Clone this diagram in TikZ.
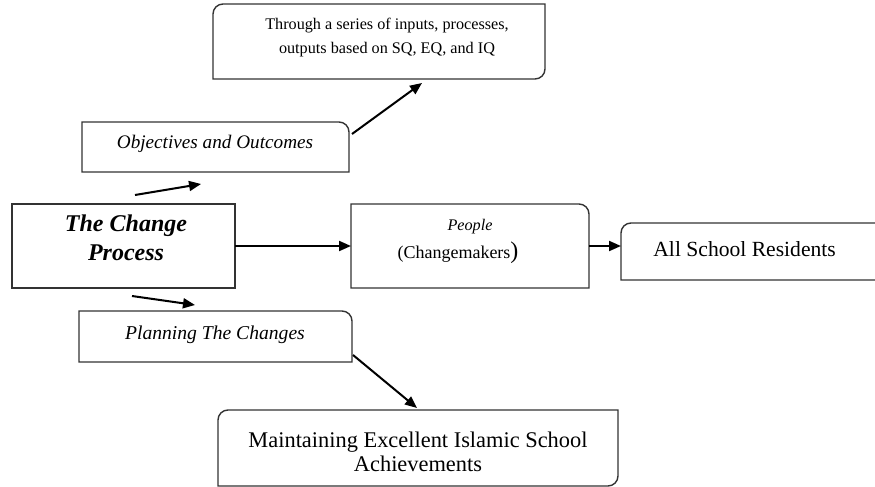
\documentclass[tikz,border=0pt]{standalone}
\usepackage{fontspec}
\setmainfont{Liberation Serif}
\usetikzlibrary{arrows.meta,positioning}
\tikzset{
  boxline/.style={draw=black!80, line width=0.7pt},
  frame/.style={inner sep=0pt, outer sep=0pt},
  arr/.style={-{Triangle[length=6pt,width=5pt]}, line width=1pt},
  lbl/.style={align=center, inner sep=0pt}
}
\begin{document}
\begin{tikzpicture}[x=0.5pt,y=-0.5pt]
\useasboundingbox (0,0) rectangle (875,487);
% box frames
\node[frame, minimum width=166pt, minimum height=37.5pt] (series) at (379,41.5) {};
\node[frame, minimum width=133.5pt, minimum height=25pt] (goals) at (215.5,147) {};
\node[frame, minimum width=111.5pt, minimum height=42pt] (change) at (123.5,246) {};
\node[frame, minimum width=119pt, minimum height=42pt] (people) at (470,246) {};
\node[frame, minimum width=132pt, minimum height=28.5pt] (residents) at (753,251.5) {};
\node[frame, minimum width=136.5pt, minimum height=25.5pt] (planning) at (215.5,336.5) {};
\node[frame, minimum width=200pt, minimum height=38pt] (achieve) at (418,448) {};
% outlines, one or two rounded corners each
\draw[boxline] (series.south west) [rounded corners=5pt] -- (series.north west) [sharp corners] -- (series.north east) [rounded corners=5pt] -- (series.south east) [sharp corners] -- cycle;
\draw[boxline] (goals.north west) [rounded corners=5pt] -- (goals.north east) [sharp corners] -- (goals.south east) -- (goals.south west) -- cycle;
\draw[boxline] (change.south west) rectangle (change.north east);
\draw[boxline] (people.north west) [rounded corners=5pt] -- (people.north east) [sharp corners] -- (people.south east) -- (people.south west) -- cycle;
\draw[boxline] (residents.south west) [rounded corners=5pt] -- (residents.north west) [sharp corners] -- (residents.north east) -- (residents.south east) -- cycle;
\draw[boxline] (planning.north west) [rounded corners=5pt] -- (planning.north east) [sharp corners] -- (planning.south east) -- (planning.south west) -- cycle;
\draw[boxline] (achieve.south west) [rounded corners=5pt] -- (achieve.north west) [sharp corners] -- (achieve.north east) [rounded corners=5pt] -- (achieve.south east) [sharp corners] -- cycle;
% texts
\node[lbl, font=\fontsize{8.1}{12}\selectfont] (series-txt) at (387,38) {Through a series of inputs, processes,\\outputs based on SQ, EQ, and IQ};
\node[lbl, font=\fontsize{9.6}{11}\selectfont\itshape] (goals-txt) at (215,144) {Objectives and Outcomes};
\node[lbl, font=\fontsize{12}{14.5}\selectfont\bfseries\itshape] (change-txt) at (126,238) {The Change\\Process};
\node[lbl, font=\fontsize{8.1}{10}\selectfont\itshape] (people-txt) at (470,227) {People};
\node[lbl, font=\fontsize{9}{10}\selectfont] (makers-txt) at (458,253) {(Changemakers{\fontsize{12}{12}\selectfont)}};
\node[lbl, anchor=west, font=\fontsize{10.8}{12}\selectfont] (residents-txt) at (653,249) {All School Residents};
\node[lbl, font=\fontsize{9.8}{11}\selectfont\itshape] (planning-txt) at (215,335) {Planning The Changes};
\node[lbl, font=\fontsize{11.2}{12}\selectfont] (achieve-txt) at (418,452) {Maintaining Excellent Islamic School\\Achievements};
% free arrow ends
\coordinate (up-from) at (352,134);
\coordinate (up-to) at (422,83);
\coordinate (obj-from) at (135,195);
\coordinate (obj-to) at (201,184);
\coordinate (plan-from) at (132,296);
\coordinate (plan-to) at (195,305);
\coordinate (down-from) at (353,355);
\coordinate (down-to) at (417,408);
% arrows
\draw[arr] (up-from) -- (up-to);
\draw[arr] (obj-from) -- (obj-to);
\draw[arr] (plan-from) -- (plan-to);
\draw[arr] (change) -- (people);
\draw[arr] (people.east) -- (people.east -| residents.west);
\draw[arr] (down-from) -- (down-to);
\end{tikzpicture}
\end{document}
